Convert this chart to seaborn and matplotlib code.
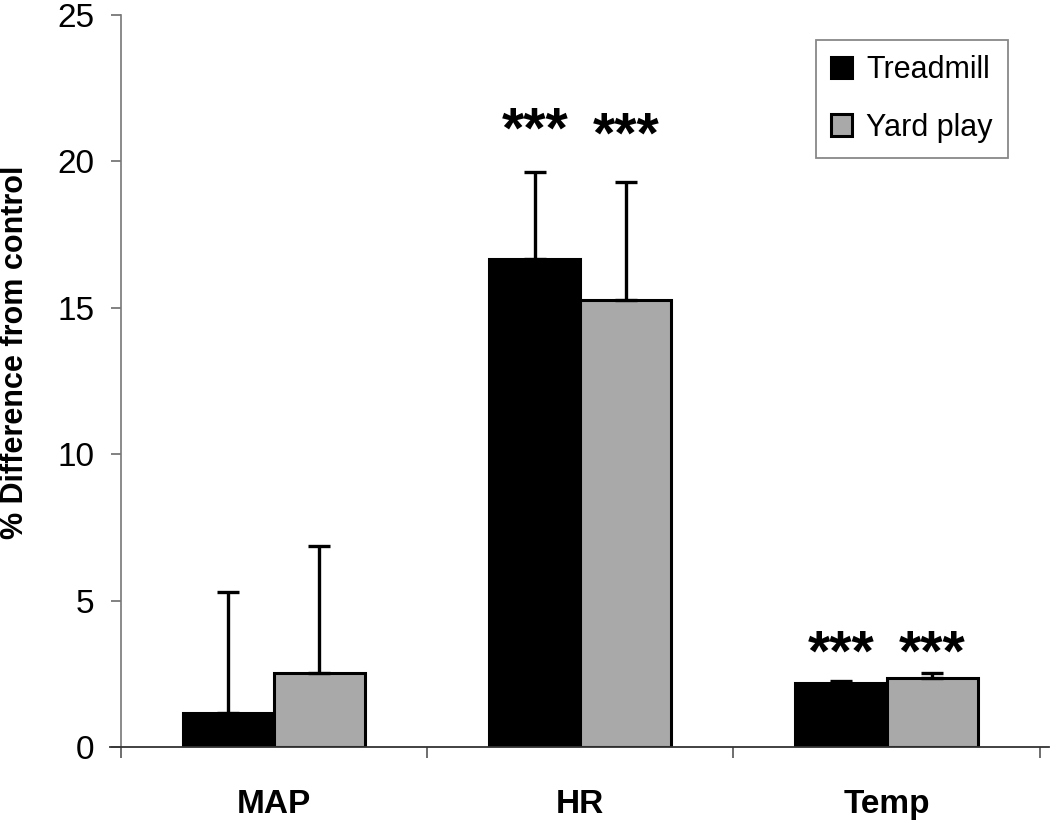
import pandas as pd
import matplotlib.pyplot as plt
import seaborn as sns

# values
measures = ['MAP', 'HR', 'Temp']
groups = ['Treadmill', 'Yard play']
treadmill_mean = [1.17, 16.68, 2.20]
treadmill_err = [4.11, 2.97, 0.05]
yard_mean = [2.52, 15.27, 2.35]
yard_err = [4.34, 4.04, 0.18]
stars = ['', '***', '***']
# height of the star marks above zero, per bar
treadmill_star_y = [0, 21.0, 3.13]
yard_star_y = [0, 20.8, 3.13]
y_ticks = [0, 5, 10, 15, 20, 25]

df = pd.DataFrame({
    'measure': measures * 2,
    'group': [groups[0]] * 3 + [groups[1]] * 3,
    'value': treadmill_mean + yard_mean,
})

sns.set_style('white')
plt.rcParams['font.family'] = ['Liberation Sans', 'DejaVu Sans']
plt.rcParams['text.color'] = 'black'
plt.rcParams['axes.labelcolor'] = 'black'

fig = plt.figure(figsize=(10.5, 8.21), dpi=100)
ax = fig.add_axes([110 / 1050, 74 / 821, 939 / 1050, 732 / 821])

palette = {'Treadmill': '#000000', 'Yard play': '#a9a9a9'}
sns.barplot(data=df, x='measure', y='value', hue='group', order=measures,
            hue_order=groups, palette=palette, width=0.595, gap=0,
            errorbar=None, edgecolor='black', linewidth=2.2, saturation=1,
            ax=ax)

for s in ['top', 'right']:
    ax.spines[s].set_visible(False)
ax.spines['left'].set_position(('data', -0.5))
ax.spines['left'].set_color('#777777')
ax.spines['left'].set_linewidth(1.2)
ax.spines['bottom'].set_color('#333333')
ax.spines['bottom'].set_linewidth(1.3)

# one-sided error bars and significance stars
errs = [treadmill_err, yard_err]
means = [treadmill_mean, yard_mean]
star_y = [treadmill_star_y, yard_star_y]
bar_groups = list(ax.containers)
for i, cont in enumerate(bar_groups):
    xs = [b.get_x() + b.get_width() / 2 for b in cont]
    ax.errorbar(xs, means[i], yerr=[[0] * 3, errs[i]], fmt='none',
                ecolor='black', elinewidth=2.4, capsize=8, capthick=2.4,
                zorder=5)
    for j, x in enumerate(xs):
        if stars[j]:
            ax.text(x, star_y[i][j], stars[j], ha='center', va='center',
                    fontsize=41, fontweight='bold', color='black')

ax.set_ylim(0, 25)
ax.set_xlim(-0.535, 2.53)
ax.set_yticks(y_ticks)
ax.set_yticklabels([str(t) for t in y_ticks])
ax.set_xticks(range(3))
ax.set_xticklabels(measures, fontweight='bold')
ax.set_xticks([-0.5, 0.5, 1.5, 2.5], minor=True)
ax.tick_params(axis='x', which='major', length=0, pad=30, labelsize=24,
               labelcolor='black')
ax.tick_params(axis='x', which='minor', direction='out', length=8,
               width=1.2, color='#555555', bottom=True)
ax.tick_params(axis='y', direction='out', length=7, width=1.3,
               color='#777777', pad=12, left=True, labelsize=24,
               labelcolor='black')

ax.set_xlabel('')
ax.set_ylabel('% Difference from control', fontsize=22, fontweight='bold')
ax.yaxis.set_label_coords(30 / 1050, 1 - 352 / 821, transform=fig.transFigure)

handles, labels = ax.get_legend_handles_labels()
leg = ax.legend(handles, labels, loc='upper right',
                bbox_to_anchor=(1008 / 1050, 1 - 40 / 821),
                bbox_transform=fig.transFigure, borderaxespad=0,
                fontsize=22, frameon=True,
                fancybox=False, framealpha=1, edgecolor='#888888',
                handlelength=0.7, handleheight=0.7, handletextpad=0.45,
                labelspacing=0.9, borderpad=0.5, title=None)
leg.get_frame().set_linewidth(1.3)

fig.savefig('out.png', dpi=100)
